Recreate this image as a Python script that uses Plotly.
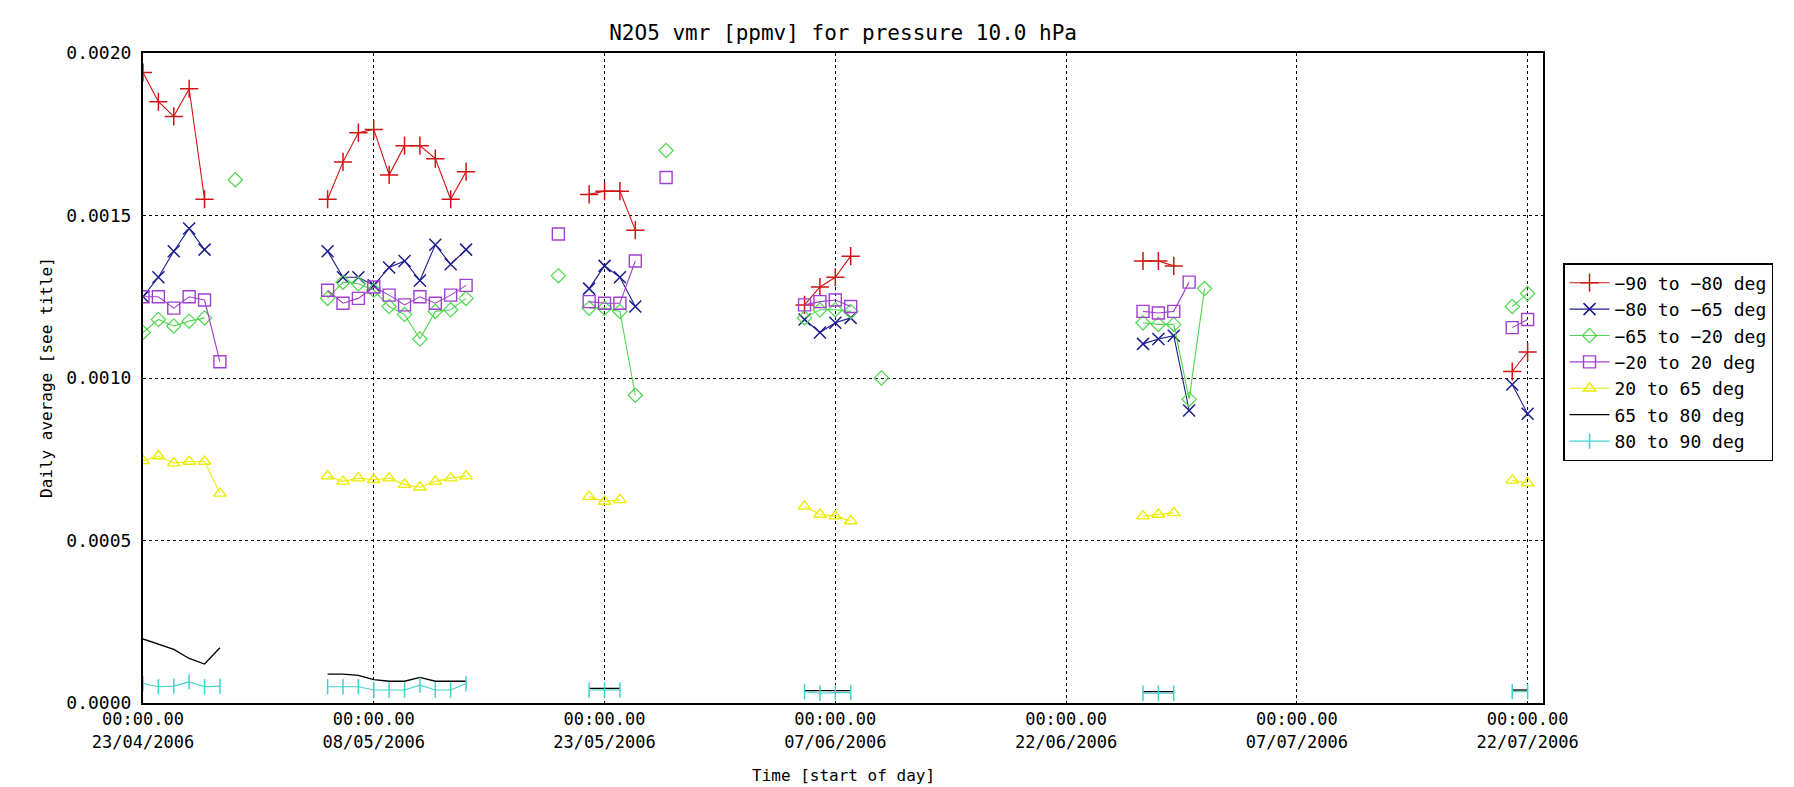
import datetime as dt
import plotly.graph_objects as go

START = dt.date(2006, 4, 23)

# ---- data: day offsets from 23/04/2006 and daily averages [ppmv] ----
red_days = [0, 1, 2, 3, 4, 12, 13, 14, 15, 16, 17, 18, 19, 20, 21, 29, 30, 31, 32,
            43, 44, 45, 46, 65, 66, 67, 89, 90]
red_vals = [0.00194, 0.00185, 0.001805, 0.00189, 0.00155,
            0.00155, 0.001665, 0.001755, 0.001765, 0.001625, 0.001715, 0.001715, 0.001675, 0.00155, 0.001635,
            0.001565, 0.001575, 0.001575, 0.001455,
            0.001225, 0.00128, 0.00131, 0.001375,
            0.00136, 0.00136, 0.001345,
            0.00102, 0.00108]

blue_days = [0, 1, 2, 3, 4, 12, 13, 14, 15, 16, 17, 18, 19, 20, 21, 29, 30, 31, 32,
             43, 44, 45, 46, 65, 66, 67, 68, 89, 90]
blue_vals = [0.00125, 0.00131, 0.00139, 0.00146, 0.001395,
             0.00139, 0.00131, 0.00131, 0.001285, 0.00134, 0.00136, 0.0013, 0.00141, 0.00135, 0.001395,
             0.001275, 0.001345, 0.00131, 0.00122,
             0.00118, 0.00114, 0.00117, 0.001185,
             0.001105, 0.00112, 0.00113, 0.0009,
             0.00098, 0.00089]

green_days = [0, 1, 2, 3, 4, 6, 12, 13, 14, 15, 16, 17, 18, 19, 20, 21, 27, 29, 30, 31, 32, 34,
              43, 44, 45, 46, 48, 65, 66, 67, 68, 69, 89, 90]
green_vals = [0.00114, 0.00118, 0.00116, 0.001175, 0.001185, 0.00161,
              0.001245, 0.001295, 0.00129, 0.00127, 0.00122, 0.001195, 0.00112, 0.001205, 0.00121, 0.001245,
              0.001315, 0.001215, 0.001215, 0.001205, 0.000947, 0.0017,
              0.001185, 0.00121, 0.00121, 0.001205, 0.001,
              0.00117, 0.001165, 0.001165, 0.000935, 0.001275,
              0.00122, 0.00126]

purple_days = [0, 1, 2, 3, 4, 5, 12, 13, 14, 15, 16, 17, 18, 19, 20, 21, 27, 29, 30, 31, 32, 34,
               43, 44, 45, 46, 65, 66, 67, 68, 89, 90]
purple_vals = [0.00125, 0.00125, 0.001215, 0.00125, 0.00124, 0.00105,
               0.00127, 0.00123, 0.001245, 0.00128, 0.001255, 0.001225, 0.00125, 0.00123, 0.001255, 0.001285,
               0.001443, 0.001235, 0.00123, 0.00123, 0.00136, 0.001617,
               0.001225, 0.001235, 0.00124, 0.00122,
               0.001205, 0.0012, 0.001205, 0.001295,
               0.001155, 0.00118]

yellow_days = [0, 1, 2, 3, 4, 5, 12, 13, 14, 15, 16, 17, 18, 19, 20, 21, 29, 30, 31,
               43, 44, 45, 46, 65, 66, 67, 89, 90]
yellow_vals = [0.000745, 0.00076, 0.000738, 0.000743, 0.000743, 0.000645,
               0.000698, 0.000682, 0.000692, 0.000687, 0.000692, 0.000672, 0.000664, 0.000682, 0.000692, 0.000698,
               0.000635, 0.00062, 0.000625,
               0.000605, 0.00058, 0.000575, 0.00056,
               0.000575, 0.00058, 0.000585,
               0.000685, 0.000677]

black_days = [0, 1, 2, 3, 4, 5, 12, 13, 14, 15, 16, 17, 18, 19, 20, 21, 29, 30, 31,
              43, 44, 45, 46, 65, 66, 67, 89, 90]
black_vals = [0.000197, 0.00018, 0.000165, 0.000137, 0.00012, 0.00017,
              0.000089, 0.000089, 0.000085, 0.000072, 0.000067, 0.000067, 0.000079, 0.000067, 0.000067, 0.000067,
              0.000045, 0.000045, 0.000045,
              0.000038, 0.000038, 0.000038, 0.000038,
              0.000035, 0.000035, 0.000035,
              0.00004, 0.00004]

cyan_days = [0, 1, 2, 3, 4, 5, 12, 13, 14, 15, 16, 17, 18, 19, 20, 21, 29, 30, 31,
             43, 44, 45, 46, 65, 66, 67, 89, 90]
cyan_vals = [0.00006, 0.00005, 0.000052, 0.000065, 0.00005, 0.000052,
             0.00005, 0.00005, 0.00005, 0.00004, 0.00004, 0.00004, 0.000055, 0.00004, 0.00004, 0.00006,
             0.00004, 0.00004, 0.00004,
             0.000035, 0.00003, 0.000032, 0.000032,
             0.00003, 0.00003, 0.00003,
             0.000035, 0.000035]

series_names = ["\u221290 to \u221280 deg", "\u221280 to \u221265 deg", "\u221265 to \u221220 deg",
                "\u221220 to 20 deg", "20 to 65 deg", "65 to 80 deg", "80 to 90 deg"]

tick_days = [0, 15, 30, 45, 60, 75, 90]
tick_labels = ["00:00.00<br>23/04/2006", "00:00.00<br>08/05/2006", "00:00.00<br>23/05/2006",
               "00:00.00<br>07/06/2006", "00:00.00<br>22/06/2006", "00:00.00<br>07/07/2006",
               "00:00.00<br>22/07/2006"]

FONT = "DejaVu Sans Mono"


def to_date(d):
    return (START + dt.timedelta(days=d)).isoformat()


def with_gaps(days, vals):
    xs, ys = [], []
    prev = None
    for d, v in zip(days, vals):
        if prev is not None and d - prev > 1:
            xs.append(None)
            ys.append(None)
        xs.append(to_date(d))
        ys.append(v)
        prev = d
    return xs, ys


styles = [
    (red_days, red_vals, "#d01414", "cross-thin", 13, 1.5),
    (blue_days, blue_vals, "#1c1c8c", "x-thin", 12, 1.5),
    (green_days, green_vals, "#4fd84f", "diamond-open", 11, 1.2),
    (purple_days, purple_vals, "#a040d0", "square-open", 12, 1.4),
    (yellow_days, yellow_vals, "#ecec00", "triangle-up-open", 11, 1.4),
    (black_days, black_vals, "#000000", None, 0, 0),
    (cyan_days, cyan_vals, "#3fd2cc", "line-ns", 11, 1.5),
]

fig = go.Figure()
for (days, vals, col, sym, size, mlw), name in zip(styles, series_names):
    xs, ys = with_gaps(days, vals)
    if sym is None:
        fig.add_trace(go.Scatter(x=xs, y=ys, name=name, mode="lines",
                                 line=dict(color=col, width=1.3), connectgaps=False))
    else:
        fig.add_trace(go.Scatter(x=xs, y=ys, name=name, mode="lines+markers",
                                 line=dict(color=col, width=1.1), connectgaps=False,
                                 marker=dict(symbol=sym, size=size, color=col,
                                             line=dict(color=col, width=mlw))))

grid = dict(showgrid=True, gridcolor="black", gridwidth=1.4, griddash="dot",
            showline=True, linecolor="black", linewidth=2, mirror=True,
            zeroline=False, ticks="")

fig.update_layout(
    width=1794, height=787,
    margin=dict(l=135, r=259, t=45, b=92),
    paper_bgcolor="white", plot_bgcolor="white",
    font=dict(family=FONT, color="black", size=18),
    title=dict(text="N2O5 vmr [ppmv] for pressure 10.0 hPa", x=0.4655, xanchor="center",
               y=1 - 25 / 787, yanchor="middle", font=dict(family=FONT, size=21, color="black")),
    xaxis=dict(type="date", range=[to_date(0), to_date(91)],
               tickvals=[to_date(d) for d in tick_days], ticktext=tick_labels,
               tickfont=dict(family=FONT, size=17, color="black"), **grid),
    yaxis=dict(range=[0, 0.002], tickvals=[0, 0.0005, 0.001, 0.0015, 0.002],
               tickformat=".4f", tickfont=dict(family=FONT, size=18, color="black"),
               ticklabelstandoff=6, **grid),
    legend=dict(x=1.0143, xanchor="left", y=(695 - 255) / 650, yanchor="top",
                bgcolor="white", bordercolor="black", borderwidth=1.5,
                font=dict(family=FONT, size=18, color="black"), itemwidth=40,
                tracegroupgap=0),
    showlegend=True,
    annotations=[
        dict(text="Time [start of day]", xref="paper", yref="paper", x=0.5, y=(695 - 767) / 650,
             xanchor="center", yanchor="middle", showarrow=False, font=dict(family=FONT, size=16)),
        dict(text="Daily average [see title]", xref="paper", yref="paper", x=(38 - 135) / 1400, y=0.5,
             xanchor="center", yanchor="middle", textangle=-90, showarrow=False,
             font=dict(family=FONT, size=16)),
    ],
)

fig.write_html("out.html")
